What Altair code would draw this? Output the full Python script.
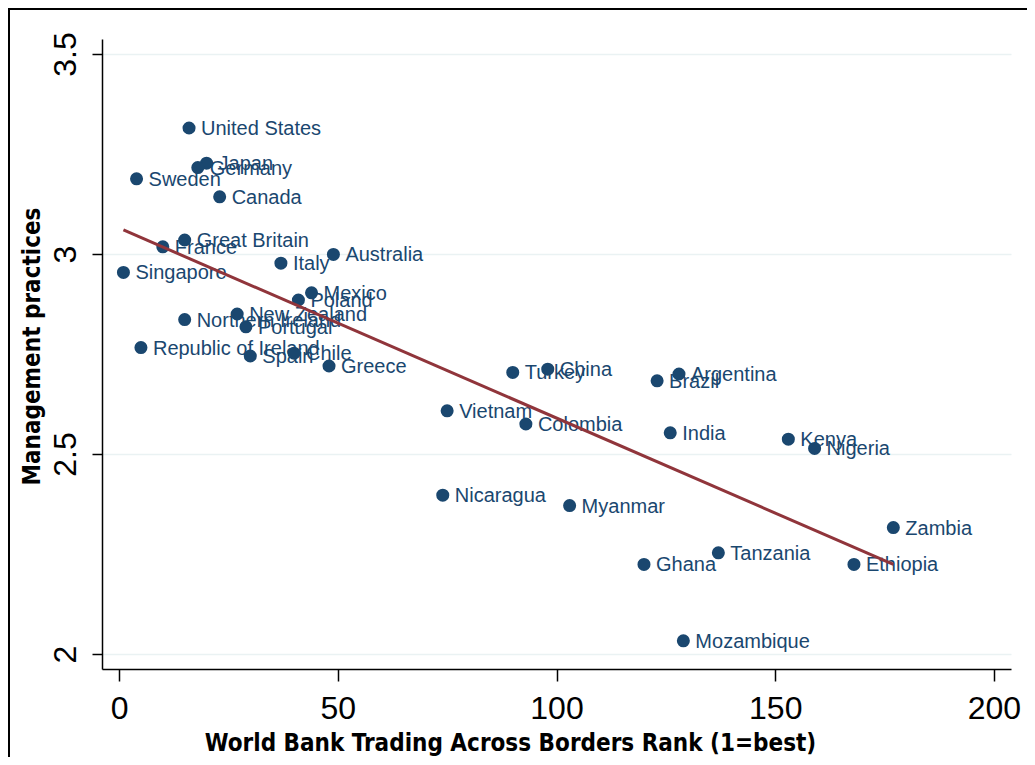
import altair as alt
import pandas as pd

countries = ["United States", "Japan", "Germany", "Sweden", "Canada", "Great Britain", "France",
             "Australia", "Singapore", "Italy", "Mexico", "Poland", "New Zealand", "Northern Ireland",
             "Portugal", "Republic of Ireland", "Spain", "Chile", "Greece", "Turkey", "China", "Brazil",
             "Argentina", "Vietnam", "Colombia", "India", "Kenya", "Nigeria", "Nicaragua", "Myanmar",
             "Zambia", "Tanzania", "Ghana", "Ethiopia", "Mozambique"]
rank = [16, 20, 18, 4, 23, 15, 10,
        49, 1, 37, 44, 41, 27, 15,
        29, 5, 30, 40, 48, 90, 98, 123,
        128, 75, 93, 126, 153, 159, 74, 103,
        177, 137, 120, 168, 129]
mgmt = [3.315, 3.227, 3.216, 3.188, 3.143, 3.035, 3.018,
        2.999, 2.954, 2.977, 2.903, 2.885, 2.850, 2.836,
        2.818, 2.766, 2.745, 2.752, 2.720, 2.704, 2.712, 2.683,
        2.700, 2.608, 2.575, 2.553, 2.537, 2.514, 2.397, 2.371,
        2.316, 2.253, 2.224, 2.224, 2.033]

x_ticks = [0, 50, 100, 150, 200]
y_ticks = [2, 2.5, 3, 3.5]

df = pd.DataFrame({"country": countries, "rank": rank, "mgmt": mgmt})
one = pd.DataFrame({"a": [0]})

NAVY = "#1a476f"
MAROON = "#90353b"
TITLE_FONT = "DejaVu Sans Condensed, sans-serif"
LABEL_FONT = "Liberation Sans, Arial, sans-serif"

xscale = alt.Scale(domain=[-3.9, 203.9], nice=False, zero=False)
yscale = alt.Scale(domain=[1.9625, 3.5375], nice=False, zero=False)

xaxis = alt.Axis(
    values=x_ticks, title="World Bank Trading Across Borders Rank (1=best)", grid=False,
    labelFont=LABEL_FONT, labelFontSize=32, labelColor="black", labelPadding=37,
    labelBaseline="alphabetic", labelFlush=False, labelAngle=0,
    tickSize=12, tickColor="black", tickWidth=1.5,
    domainColor="black", domainWidth=1.5,
    titleFont=TITLE_FONT, titleFontWeight="bold", titleFontSize=24, titleColor="black",
    titleX=408, titleY=81, titleAlign="center", titleBaseline="alphabetic",
)
yaxis = alt.Axis(
    values=y_ticks, title="Management practices", grid=True, format="~g",
    gridColor="#eaf2f3", gridWidth=1.5,
    labelFont=LABEL_FONT, labelFontSize=32, labelColor="black", labelPadding=17,
    labelAngle=270, labelAlign="center", labelBaseline="alphabetic", labelFlush=False,
    tickSize=10, tickColor="black", tickWidth=1.5,
    domainColor="black", domainWidth=1.5,
    titleFont=TITLE_FONT, titleFontWeight="bold", titleFontSize=24, titleColor="black",
    titleAngle=270, titleX=-63, titleY=307, titleAlign="center", titleBaseline="alphabetic",
)

base = alt.Chart(df)

points = base.mark_circle(size=170, color=NAVY, opacity=1).encode(
    x=alt.X("rank:Q", scale=xscale, axis=xaxis),
    y=alt.Y("mgmt:Q", scale=yscale, axis=yaxis),
)

labels = base.mark_text(align="left", baseline="middle", dx=12, dy=1,
                        font=LABEL_FONT, fontSize=20, color=NAVY).encode(
    x=alt.X("rank:Q", scale=xscale),
    y=alt.Y("mgmt:Q", scale=yscale),
    text="country:N",
)

fit = base.transform_regression("rank", "mgmt").mark_line(color=MAROON, strokeWidth=3).encode(
    x=alt.X("rank:Q", scale=xscale),
    y=alt.Y("mgmt:Q", scale=yscale),
)

frame_left = alt.Chart(one).mark_rule(color="black", strokeWidth=2).encode(
    x=alt.value(-93), y=alt.value(-31), y2=alt.value(718)
)
frame_top = alt.Chart(one).mark_rule(color="black", strokeWidth=2).encode(
    x=alt.value(-94), x2=alt.value(925), y=alt.value(-30)
)

chart = alt.layer(points, labels, fit, frame_left, frame_top).properties(
    width=909, height=630,
    padding={"left": 94, "top": 31, "right": 16, "bottom": 88},
    autosize=alt.AutoSizeParams(type="none"),
    background="white",
).configure_view(strokeWidth=0)

chart.save("out.html", embed_options={"renderer": "svg", "actions": False})
